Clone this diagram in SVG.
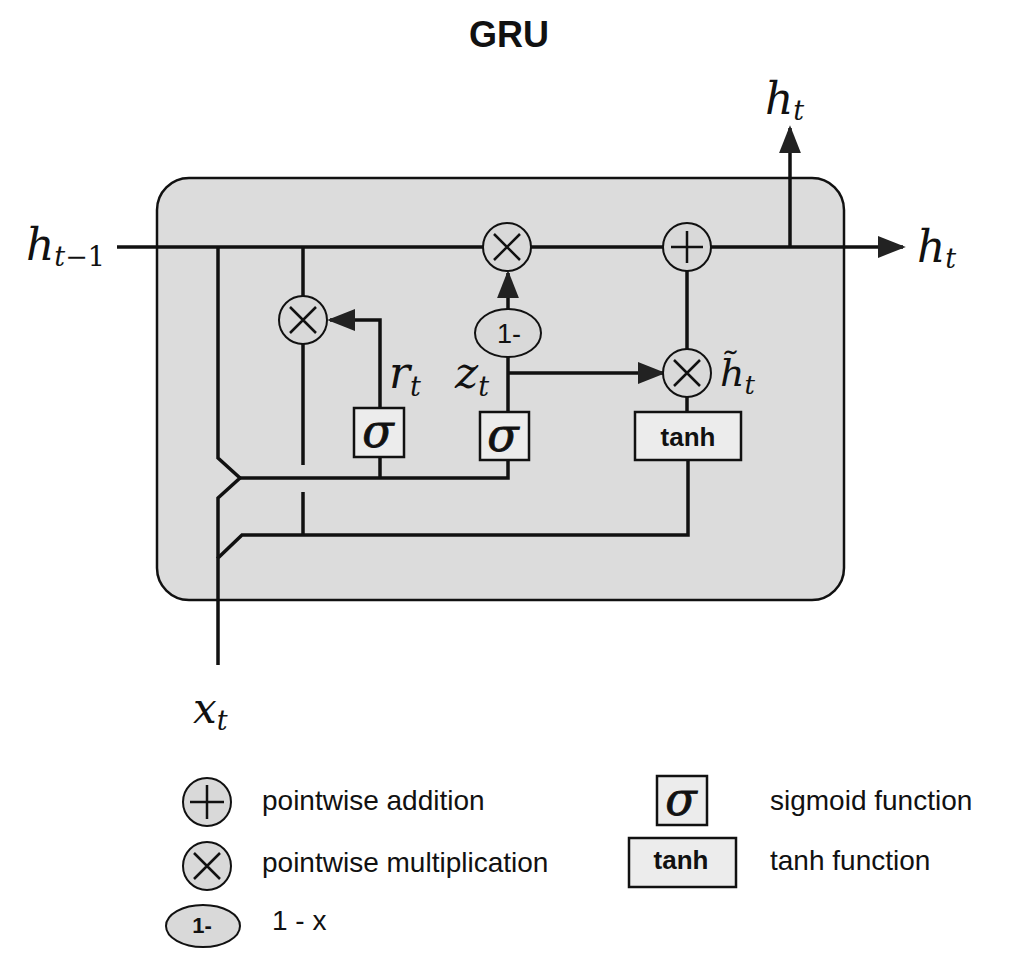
<svg xmlns="http://www.w3.org/2000/svg" width="1019" height="969" viewBox="0 0 1019 969">
<defs>
<marker id="arrB" viewBox="0 0 10 10" refX="9" refY="5" markerWidth="28" markerHeight="22" markerUnits="userSpaceOnUse" orient="auto" preserveAspectRatio="none">
<path d="M0,0 L10,5 L0,10 z" fill="#222"/>
</marker>
<style>
.ln{stroke:#111;stroke-width:3.5;fill:none}
.op{fill:#d9d9d9;stroke:#111;stroke-width:2}
.sym{stroke:#111;stroke-width:2.5}
.gate{fill:#ececec;stroke:#111;stroke-width:2.5}
.math{font-family:"DejaVu Serif","Liberation Serif",serif;font-style:italic;fill:#111}
.sig{font-family:"DejaVu Serif","Liberation Serif",serif;font-style:italic;font-size:46px;fill:#111;stroke:#111;stroke-width:0.8}
.tanh{font-family:"Liberation Sans",Arial,sans-serif;font-weight:bold;font-size:26px;fill:#111}
.leg{font-family:"Liberation Sans",Arial,sans-serif;font-size:28px;fill:#111}
</style>
</defs>
<rect width="1019" height="969" fill="#fff"/>
<text x="509" y="47" text-anchor="middle" font-family="Liberation Sans, Arial, sans-serif" font-weight="bold" font-size="36" fill="#111">GRU</text>

<g id="cell">
<rect x="157" y="178" width="687" height="422" rx="32" ry="32" fill="#dcdcdc" stroke="#111" stroke-width="2.5"/>
</g>

<g id="connectors">
<line class="ln" x1="117" y1="247" x2="903" y2="247" marker-end="url(#arrB)"/>
<line class="ln" x1="790" y1="247" x2="790" y2="128" marker-end="url(#arrB)"/>
<polyline class="ln" points="218,665 218,558 242,535 688,535 688,460"/>
<polyline class="ln" points="218,558 218,498 240,478 218,458 218,247"/>
<polyline class="ln" points="240,478 508,478 508,460"/>
<line class="ln" x1="380" y1="478" x2="380" y2="457"/>
<polyline class="ln" points="380,408 380,320 330,320" marker-end="url(#arrB)"/>
<line class="ln" x1="303" y1="247" x2="303" y2="296"/>
<line class="ln" x1="303" y1="344" x2="303" y2="465"/>
<line class="ln" x1="303" y1="492" x2="303" y2="535"/>
<line class="ln" x1="508" y1="412" x2="508" y2="357"/>
<line class="ln" x1="508" y1="310" x2="508" y2="273" marker-end="url(#arrB)"/>
<polyline class="ln" points="508,373 663,373" marker-end="url(#arrB)"/>
<line class="ln" x1="687" y1="271" x2="687" y2="350"/>
<line class="ln" x1="687" y1="397" x2="687" y2="412"/>
</g>

<g id="mul_r">
<circle class="op" cx="303" cy="320" r="24"/>
<path class="sym" d="M290,307 L316,333 M316,307 L290,333"/>
</g>
<g id="mul_top">
<circle class="op" cx="507" cy="247" r="24"/>
<path class="sym" d="M494,234 L520,260 M520,234 L494,260"/>
</g>
<g id="add_top">
<circle class="op" cx="687" cy="247" r="24"/>
<path class="sym" d="M671,247 L703,247 M687,231 L687,263"/>
</g>
<g id="mul_h">
<circle class="op" cx="687" cy="373" r="24"/>
<path class="sym" d="M674,360 L700,386 M700,360 L674,386"/>
</g>
<g id="one_minus">
<ellipse class="op" cx="508" cy="333" rx="33" ry="24"/>
<text x="509" y="343" text-anchor="middle" font-family="Liberation Sans, Arial, sans-serif" font-size="27" fill="#111">1-</text>
</g>
<g id="sigma_r">
<rect class="gate" x="354" y="408" width="50" height="49"/>
<text class="sig" x="378" y="447" text-anchor="middle">σ</text>
</g>
<g id="sigma_z">
<rect class="gate" x="480" y="412" width="49" height="48"/>
<text class="sig" x="503" y="451" text-anchor="middle">σ</text>
</g>
<g id="tanh_box">
<rect class="gate" x="635" y="412" width="106" height="48"/>
<text class="tanh" x="688" y="446" text-anchor="middle">tanh</text>
</g>

<g id="labels">
<text class="math" x="26" y="260" font-size="44">h<tspan font-size="27" dy="6">t</tspan><tspan font-size="27" font-style="normal">−1</tspan></text>
<text class="math" x="917" y="262" font-size="44">h<tspan font-size="27" dy="6">t</tspan></text>
<text class="math" x="765" y="114" font-size="44">h<tspan font-size="27" dy="6">t</tspan></text>
<text class="math" x="389" y="388" font-size="44">r<tspan font-size="27" dy="8">t</tspan></text>
<text class="math" x="455" y="388" font-size="44">z<tspan font-size="27" dy="8">t</tspan></text>
<text class="math" x="720" y="386" font-size="38">h̃<tspan font-size="26" dy="8">t</tspan></text>
<text class="math" x="193" y="723" font-size="42">x<tspan font-size="27" dy="7">t</tspan></text>
</g>

<g id="legend">
<g id="leg_add">
<circle class="op" cx="207" cy="802" r="24"/>
<path class="sym" d="M190,802 L224,802 M207,785 L207,819" stroke-width="2"/>
<text class="leg" x="262" y="810">pointwise addition</text>
</g>
<g id="leg_mul">
<circle class="op" cx="207" cy="866" r="24"/>
<path class="sym" d="M194,853 L220,879 M220,853 L194,879"/>
<text class="leg" x="262" y="872">pointwise multiplication</text>
</g>
<g id="leg_one">
<ellipse class="op" cx="203" cy="926" rx="37" ry="21"/>
<text x="202" y="933" text-anchor="middle" font-family="Liberation Sans, Arial, sans-serif" font-weight="bold" font-size="22" fill="#111">1-</text>
<text class="leg" x="272" y="930">1 - x</text>
</g>
<g id="leg_sig">
<rect class="gate" x="657" y="776" width="50" height="49"/>
<text class="sig" x="681" y="815" text-anchor="middle">σ</text>
<text class="leg" x="770" y="810">sigmoid function</text>
</g>
<g id="leg_tanh">
<rect class="gate" x="629" y="838" width="107" height="49"/>
<text class="tanh" x="681" y="869" text-anchor="middle" font-size="27">tanh</text>
<text class="leg" x="770" y="870">tanh function</text>
</g>
</g>
</svg>
